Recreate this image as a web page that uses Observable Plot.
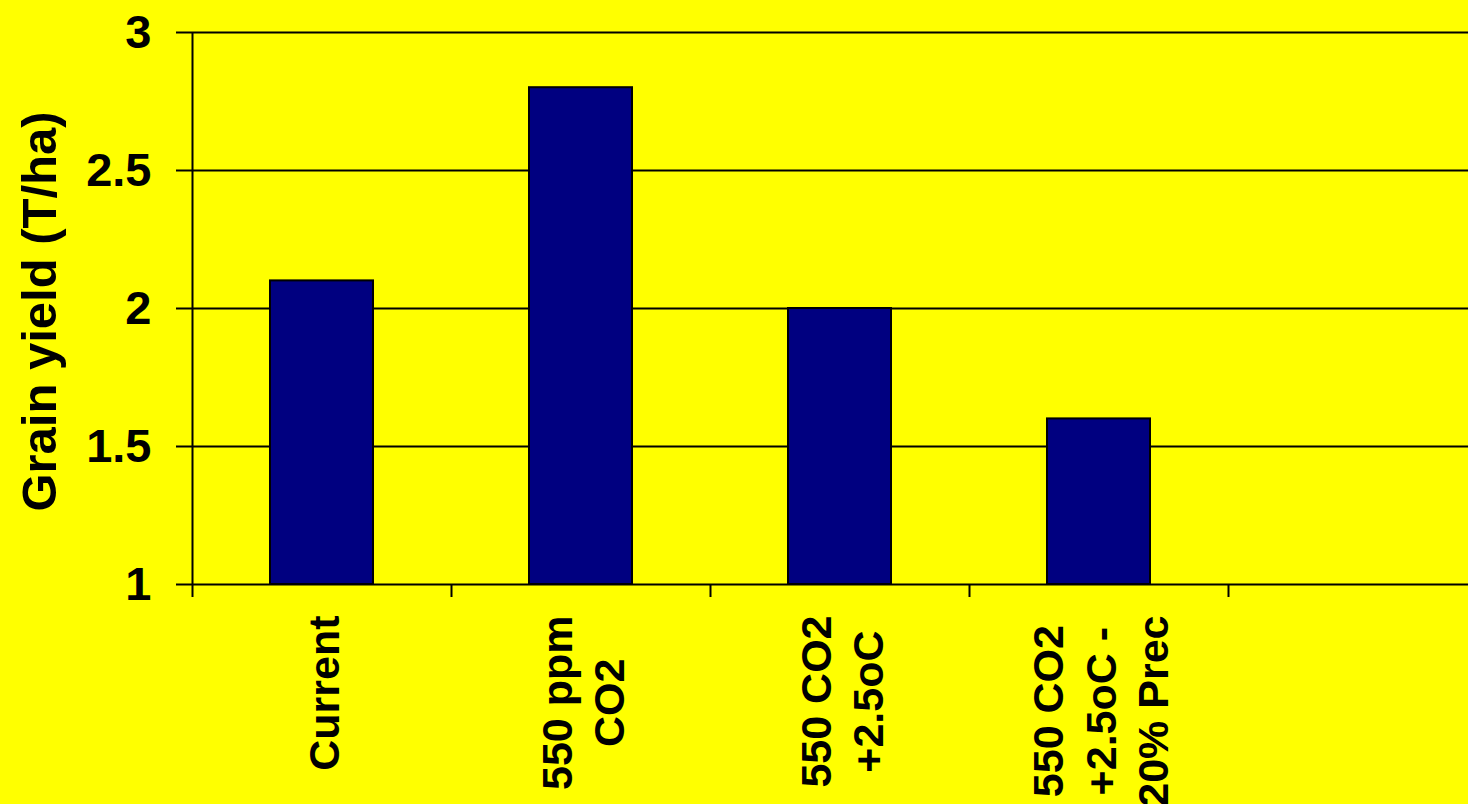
<!DOCTYPE html>
<html>
<head>
<meta charset="utf-8">
<script src="https://cdn.jsdelivr.net/npm/d3@7"></script>
<script src="https://cdn.jsdelivr.net/npm/@observablehq/plot@0.6"></script>
<style>
  html, body { margin: 0; padding: 0; background: #ffff00; overflow: hidden; }
  #chart { width: 1468px; height: 804px; overflow: hidden; }
</style>
</head>
<body>
<div id="chart"></div>
<script>
// Scenario slots along the x axis (the fifth slot is empty)
const scenarios = ["Current", "550 ppm\nCO2", "550 CO2\n+2.5oC", "550 CO2\n+2.5oC -\n20% Prec", ""];
// Grain yield per scenario, T/ha
const grainYield = [2.1, 2.8, 2.0, 1.6, null];
// Y axis ticks and their labels
const yTicks = [1, 1.5, 2, 2.5, 3];
const yTickLabels = ["1", "1.5", "2", "2.5", "3"];
const yTitle = "Grain yield (T/ha)";

const rows = scenarios.map((name, i) => ({slot: i, name, value: grainYield[i]}));
const bars = rows.filter(d => d.value != null);
const slotEdges = d3.range(scenarios.length + 1);
const yMin = yTicks[0];
const yMax = yTicks[yTicks.length - 1];

const plot = Plot.plot({
  width: 1487,
  height: 804,
  marginLeft: 192,
  marginRight: 0,
  marginTop: 32,
  marginBottom: 220,
  style: {
    background: "#ffff00",
    color: "#000",
    fontFamily: "'Liberation Sans', Arial, sans-serif",
    fontWeight: "bold",
    fontSize: "44px",
    maxWidth: "none"
  },
  x: {domain: [0, scenarios.length], label: null},
  y: {domain: [yMin, yMax], label: null},
  marks: [
    Plot.gridY(yTicks.slice(1), {stroke: "#000", strokeOpacity: 1, strokeWidth: 2}),
    Plot.rect(bars, {
      x1: "slot",
      x2: d => d.slot + 1,
      y1: yMin,
      y2: "value",
      insetLeft: 78,
      insetRight: 78,
      fill: "#000080",
      stroke: "#000",
      strokeWidth: 2
    }),
    Plot.ruleY([yMin], {stroke: "#000", strokeWidth: 2}),
    Plot.ruleX([0], {stroke: "#000", strokeWidth: 2}),
    Plot.axisX({ticks: slotEdges, tickSize: 13, tickFormat: () => "", stroke: "#000", strokeWidth: 2, label: null}),
    Plot.axisY({
      ticks: yTicks,
      tickSize: 16,
      tickPadding: 25,
      tickFormat: d => yTickLabels[yTicks.indexOf(d)],
      fontSize: 47,
      stroke: "#000",
      strokeWidth: 2,
      label: null
    }),
    Plot.text(rows, {
      x: d => d.slot + 0.5,
      text: "name",
      frameAnchor: "bottom",
      dy: 31,
      rotate: -90,
      textAnchor: "end",
      lineAnchor: "middle",
      lineHeight: 1.22,
      fontSize: 43,
      fill: "#000"
    }),
    Plot.text([yTitle], {
      frameAnchor: "left",
      dx: -152,
      dy: 3,
      rotate: -90,
      textAnchor: "middle",
      fontSize: 49,
      fill: "#000"
    })
  ]
});

document.getElementById("chart").append(plot);

// Centre each line of a multi-line scenario label on its longest line
plot.querySelectorAll("text").forEach(t => {
  const spans = Array.from(t.querySelectorAll("tspan"));
  if (spans.length < 2) return;
  const longest = d3.max(spans, s => s.getComputedTextLength());
  t.setAttribute("text-anchor", "middle");
  spans.forEach(s => s.setAttribute("x", -longest / 2));
});
</script>
</body>
</html>
